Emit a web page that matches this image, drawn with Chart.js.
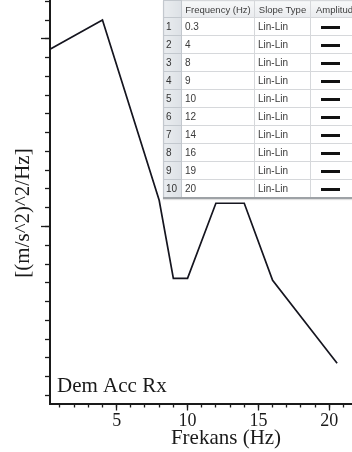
<!DOCTYPE html>
<html>
<head>
<meta charset="utf-8">
<script src="https://cdn.jsdelivr.net/npm/chart.js@4.4.0/dist/chart.umd.min.js"></script>
<style>
  html, body { margin: 0; padding: 0; background: #fff; overflow: hidden; }
  #wrap { position: relative; width: 352px; height: 452px; overflow: hidden; }
  #plot { display: block; }
  #breakpoints {
    position: absolute; left: 163px; top: 0; width: 217px;
    border-collapse: collapse; table-layout: fixed;
    font: 10px "Liberation Sans", Arial, sans-serif; color: #3a3a3a;
    background: #fff;
    border-left: 1px solid #a9adb2; border-bottom: 2px solid #9ea2a6;
    box-shadow: 0 1px 1px rgba(0,0,0,0.12);
  }
  #breakpoints td, #breakpoints th {
    border: 1px solid #d6d8db; padding: 0 0 0 3px; height: 17px;
    white-space: nowrap; overflow: hidden; text-align: left; font-weight: normal;
  }
  #breakpoints th {
    height: 16px; text-align: center; padding: 0; font-size: 9.5px;
    background: linear-gradient(#f7f8f9, #e9ebee); color: #3d3d3d;
  }
  #breakpoints th.amp { text-align: left; padding-left: 5px; }
  #breakpoints td.idx, #breakpoints th.idx {
    background: linear-gradient(90deg, #e9ecef, #dde1e6); color: #333;
    border-color: #c3c8ce; padding-left: 2px;
  }
  #breakpoints td.amp { padding-left: 10px; }
  #breakpoints td.amp span {
    display: inline-block; width: 19px; height: 3px; background: #111; vertical-align: middle;
  }
</style>
</head>
<body>
<div id="wrap">
  <canvas id="plot" width="352" height="452"></canvas>
  <table id="breakpoints">
    <colgroup><col style="width:18px"><col style="width:73px"><col style="width:56px"><col style="width:70px"></colgroup>
    <thead><tr><th class="idx"></th><th id="hFreq"></th><th id="hSlope"></th><th id="hAmp" class="amp"></th></tr></thead>
    <tbody id="rows"></tbody>
  </table>
</div>
<script>
// Breakpoints of the PSD profile: frequency (Hz) and level (axis units)
const frequencies = [0.3, 4, 8, 9, 10, 12, 14, 16, 19, 20, 20.55];
const psdLevels   = [19.45, 21.0, 11.4, 7.24, 7.24, 11.24, 11.24, 7.13, 4.22, 3.25, 2.71];
const slopeTypes  = ['Lin-Lin', 'Lin-Lin', 'Lin-Lin', 'Lin-Lin', 'Lin-Lin', 'Lin-Lin', 'Lin-Lin', 'Lin-Lin', 'Lin-Lin', 'Lin-Lin'];

// Axis ticks
const freqMajorTicks = [5, 10, 15, 20];
const levelMajorTicks = [10, 20];

// Texts
const xTitle = 'Frekans (Hz)';
const yTitle = '[(m/s^2)^2/Hz]';
const panelLabel = 'Dem Acc Rx';
const tableHeaders = ['Frequency (Hz)', 'Slope Type', 'Amplitude'];

// Breakpoint table (first rows visible)
document.getElementById('hFreq').textContent = tableHeaders[0];
document.getElementById('hSlope').textContent = tableHeaders[1];
document.getElementById('hAmp').textContent = tableHeaders[2];
const tbody = document.getElementById('rows');
slopeTypes.forEach((slope, i) => {
  const tr = document.createElement('tr');
  tr.innerHTML = '<td class="idx">' + (i + 1) + '</td><td>' + frequencies[i] +
    '</td><td>' + slope + '</td><td class="amp"><span></span></td>';
  tbody.appendChild(tr);
});

const serif = '"Liberation Serif", "Times New Roman", serif';
const ink = '#1a1a1a';

const textPlugin = {
  id: 'panelText',
  afterDraw(chart) {
    const { ctx, chartArea } = chart;
    ctx.save();
    ctx.fillStyle = ink;
    ctx.font = '21px ' + serif;
    ctx.textBaseline = 'alphabetic';
    ctx.textAlign = 'left';
    ctx.fillText(panelLabel, chartArea.left + 7, chartArea.bottom - 12);
    ctx.textAlign = 'center';
    ctx.fillText(xTitle, chartArea.left + 176, 444);
    ctx.translate(29, 213);
    ctx.rotate(-Math.PI / 2);
    ctx.fillText(yTitle, 0, 0);
    ctx.restore();
  }
};

const X_MIN = 0.3, X_MAX = 21.6, Y_MIN = 0.57, Y_MAX = 22.07;

new Chart(document.getElementById('plot'), {
  type: 'line',
  data: {
    datasets: [{
      data: frequencies.map((f, i) => ({ x: f, y: psdLevels[i] })),
      borderColor: '#15151f',
      borderWidth: 1.7,
      pointRadius: 0,
      tension: 0,
      fill: false,
      xAxisID: 'x',
      yAxisID: 'y'
    }]
  },
  options: {
    responsive: false,
    animation: false,
    devicePixelRatio: 1,
    layout: { padding: 0 },
    plugins: { legend: { display: false }, tooltip: { enabled: false } },
    scales: {
      xMinor: {
        type: 'linear', position: 'bottom', weight: -10,
        min: X_MIN, max: X_MAX,
        border: { display: false },
        grid: { drawOnChartArea: false, tickLength: 4, tickColor: ink, tickWidth: 1.3 },
        ticks: { display: false, stepSize: 1, includeBounds: false },
        afterFit: s => { s.height = 0; }
      },
      x: {
        type: 'linear', position: 'bottom', weight: 0,
        min: X_MIN, max: X_MAX,
        border: { display: true, color: ink, width: 2 },
        grid: { drawOnChartArea: false, tickLength: 7, tickColor: ink, tickWidth: 1.3 },
        ticks: { includeBounds: false, color: ink, font: { family: serif, size: 18 }, padding: 0, maxRotation: 0 },
        afterBuildTicks: s => { s.ticks = freqMajorTicks.map(v => ({ value: v })); },
        afterFit: s => { s.height = 48.5; }
      },
      yMinor: {
        type: 'linear', position: 'left', weight: -10,
        min: Y_MIN, max: Y_MAX,
        border: { display: false },
        grid: { drawOnChartArea: false, tickLength: 5, tickColor: ink, tickWidth: 1.3 },
        ticks: { display: false, stepSize: 1, includeBounds: false },
        afterFit: s => { s.width = 0; }
      },
      y: {
        type: 'linear', position: 'left', weight: 0,
        min: Y_MIN, max: Y_MAX,
        border: { display: true, color: ink, width: 2 },
        grid: { drawOnChartArea: false, tickLength: 9, tickColor: ink, tickWidth: 1.3 },
        ticks: { display: false, includeBounds: false },
        afterBuildTicks: s => { s.ticks = levelMajorTicks.map(v => ({ value: v })); },
        afterFit: s => { s.width = 50; }
      }
    }
  },
  plugins: [textPlugin]
});
</script>
</body>
</html>
